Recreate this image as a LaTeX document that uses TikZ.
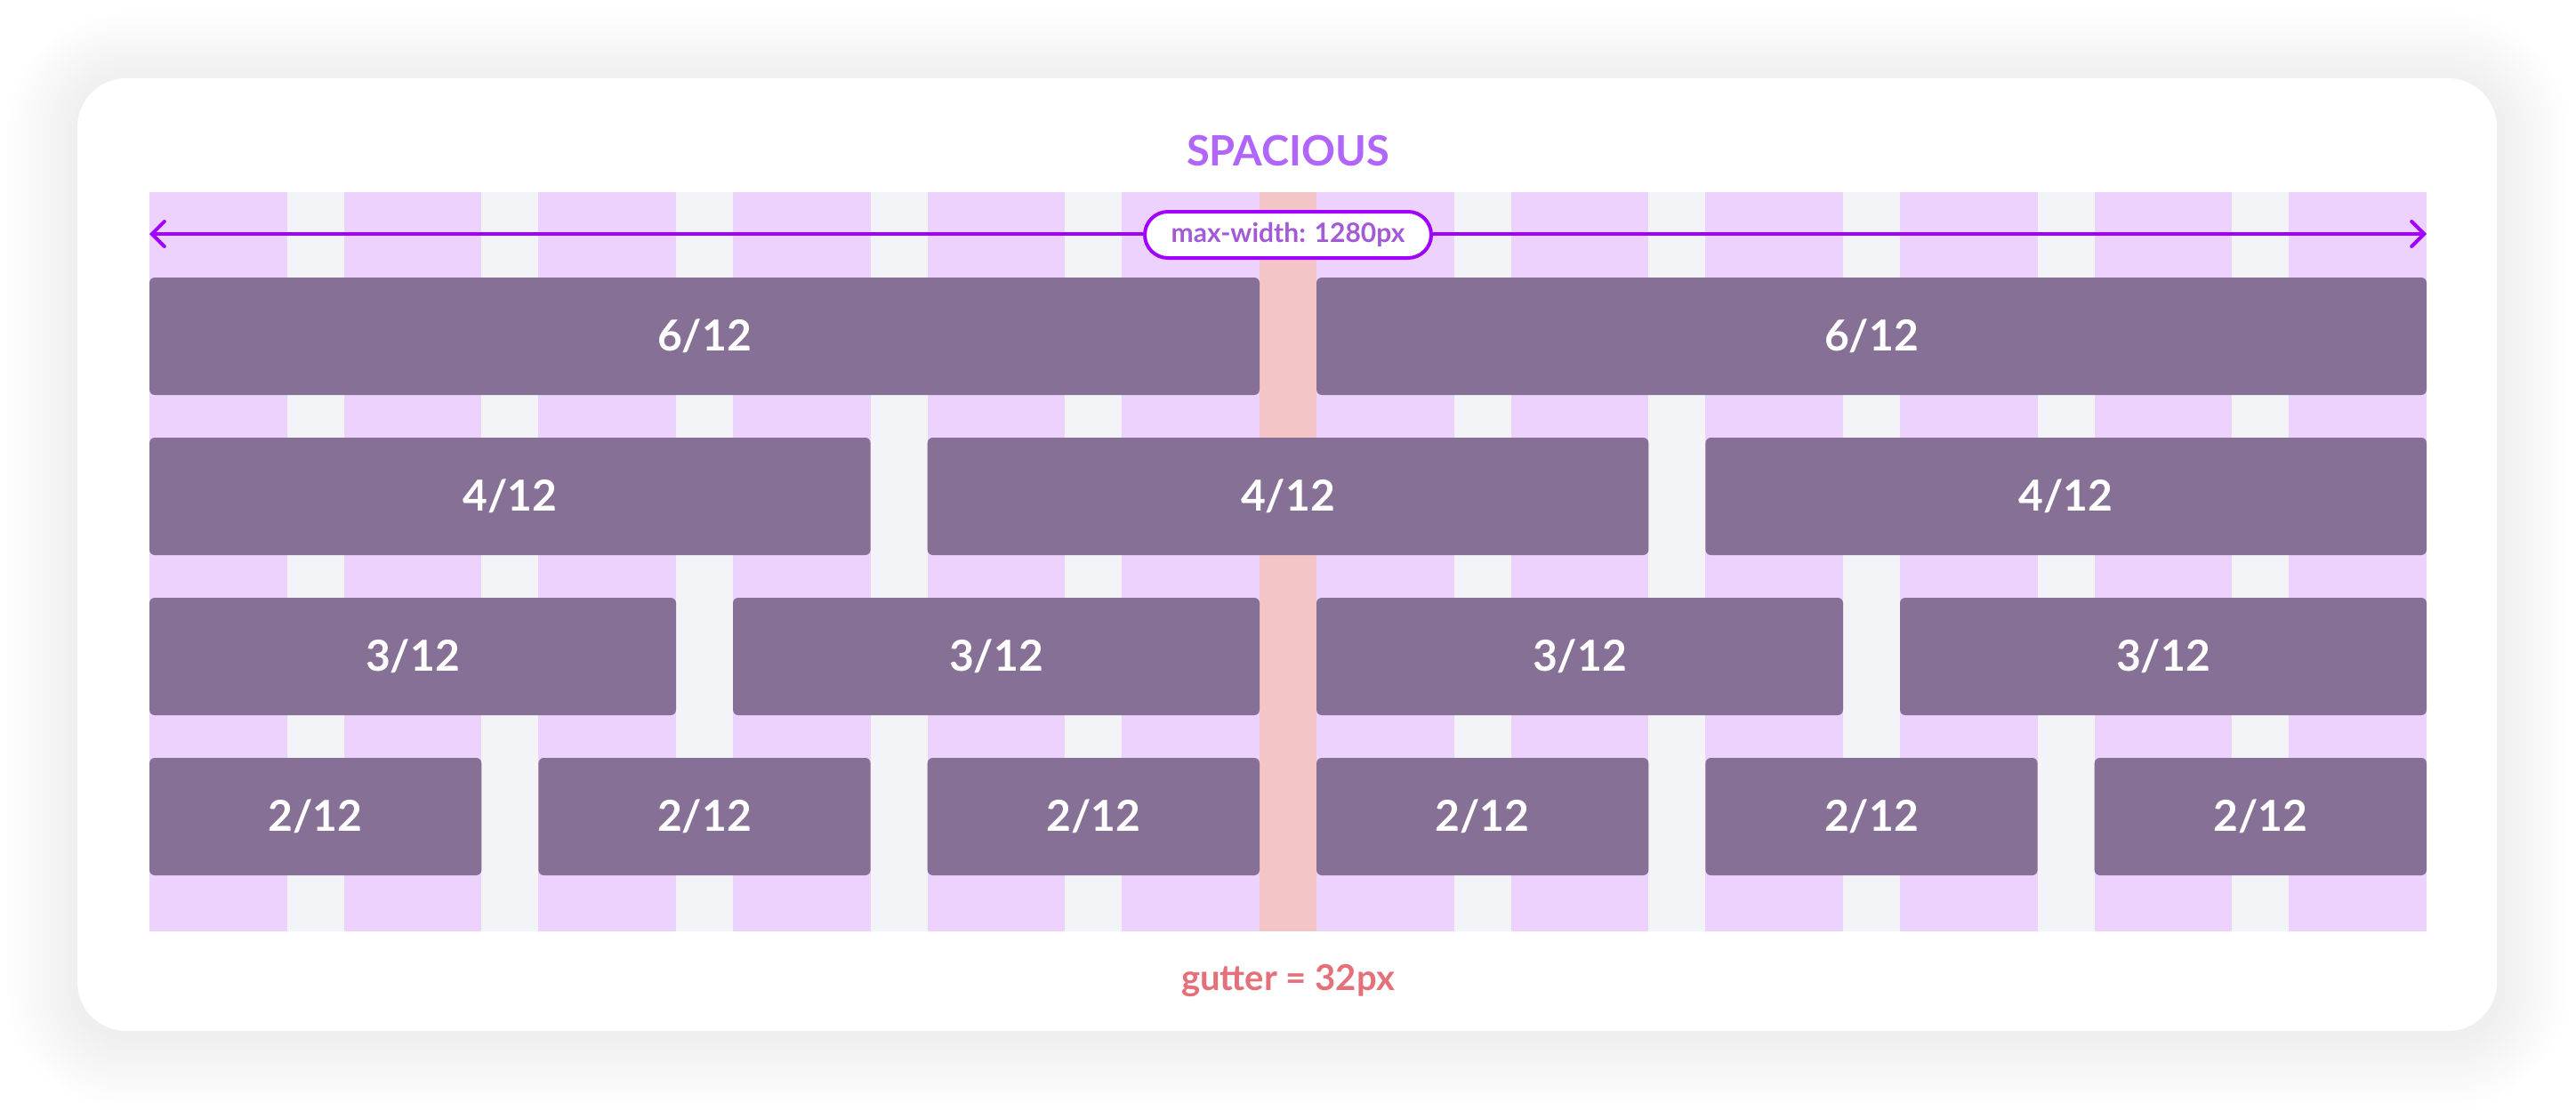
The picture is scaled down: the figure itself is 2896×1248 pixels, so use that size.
\documentclass[tikz,border=0pt]{standalone}
\usepackage{fontspec}
\setmainfont{Lato}
\usepackage{tikz}
\usetikzlibrary{arrows.meta}

\definecolor{colpink}{HTML}{ECD2FC}
\definecolor{guttergray}{HTML}{F3F4F8}
\definecolor{gutterred}{HTML}{F4C5C7}
\definecolor{boxpurple}{HTML}{867095}
\definecolor{titlepurple}{HTML}{B066FB}
\definecolor{arrowpurple}{HTML}{A100FF}
\definecolor{pilltext}{HTML}{A35AD7}
\definecolor{gutterlabel}{HTML}{E4707A}

\tikzset{
    colbox/.style={fill=boxpurple, rounded corners=6pt, inner sep=0pt, text=white,
        font=\fontsize{48}{56}\selectfont\bfseries},
    pill/.style={draw=arrowpurple, line width=4pt, fill=white, rounded corners=26pt,
        minimum width=322, minimum height=52, inner sep=0pt, text=pilltext,
        font=\fontsize{30}{34}\selectfont\bfseries},
    dimline/.style={arrowpurple, line width=4pt,
        >={Straight Barb[length=14pt, width=28pt, line cap=round]}},
}

\begin{document}
\begin{tikzpicture}[x=1pt, y=-1pt]
        \useasboundingbox (0, 0) rectangle (2896, 1248);
        % card with its soft shadow
        \foreach \i in {1, ..., 16} {
            \pgfmathsetmacro\rad{55+\i*5}
            \fill [black, opacity=0.0042, rounded corners=\rad pt]
                (87-\i*5, 94-\i*5) rectangle (2807+\i*5, 1165+\i*5);
        }
        \fill [white, rounded corners=55pt] (87, 88) rectangle (2807, 1159);

        % 12 columns, 11 gutters
        \fill [guttergray] (168, 216) rectangle (2728, 1047);
        \foreach \c in {0, ..., 11}
            \fill [colpink] (168+\c*218.667, 216) rectangle ++(154.667, 831);
        \fill [gutterred] (1416, 216) rectangle (1480, 1047);

        \node [font=\fontsize{47}{56}\selectfont\bfseries, text=titlepurple, anchor=base]
            (spacious) at (1448, 186) {SPACIOUS};

        % max-width
        \node [pill] (maxw) at (1448, 264) {max-width: 1280px};
        \coordinate (wl) at (168, 263);
        \coordinate (wr) at (2728, 263);
        \draw [dimline, <-] (wl) -- (maxw.west |- wl);
        \draw [dimline, ->] (maxw.east |- wr) -- (wr);

        % rows of spans
        \foreach \cols/\row in {6/0, 4/1, 3/2, 2/3} {
            \pgfmathtruncatemacro\nbox{12/\cols}
            \foreach \j in {1, ..., \nbox} {
                \pgfmathsetmacro\bw{\cols*218.667-64}
                \pgfmathsetmacro\bx{168+(\j-1)*\cols*218.667+\bw/2}
                \node [colbox, minimum width=\bw, minimum height=132]
                    (box\cols-\j) at (\bx, 378+\row*180) {\cols/12};
            }
        }

        \node [font=\fontsize{40}{48}\selectfont\bfseries, text=gutterlabel, anchor=base]
            (gutter) at (1448, 1113) {gutter = 32px};
    \end{tikzpicture}
\end{document}
